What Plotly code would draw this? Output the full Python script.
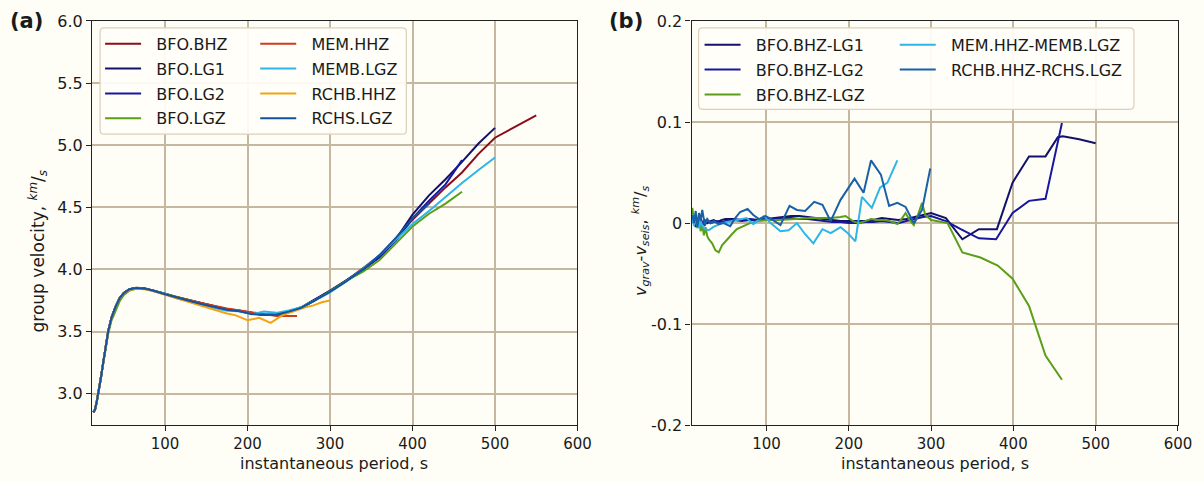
import plotly.graph_objects as go

# ---------------- Panel (a): group velocity (km/s) vs instantaneous period (s)
P_BFO = [13, 15, 17, 19, 22, 25, 28, 31, 35, 40, 45, 50, 57, 65, 75, 85, 100, 115, 130, 145,
         160, 175, 190, 205, 220, 235, 250, 265, 280, 300, 320, 340, 360, 380, 400, 420, 440, 460, 480, 500]
P_BHZ = P_BFO + [525, 550]
BFO_BHZ = [2.85, 2.87, 2.93, 3.00, 3.12, 3.25, 3.38, 3.50, 3.61, 3.70,
           3.77, 3.81, 3.84, 3.85, 3.845, 3.83, 3.80, 3.77, 3.745, 3.72,
           3.695, 3.675, 3.665, 3.645, 3.632, 3.635, 3.655, 3.69, 3.745, 3.82,
           3.91, 4.01, 4.11, 4.25, 4.40, 4.53, 4.66, 4.78, 4.93, 5.06, 5.15, 5.24]
BFO_LG1 = [2.85, 2.87, 2.93, 3.00, 3.12, 3.25, 3.38, 3.50, 3.61, 3.70,
           3.77, 3.81, 3.84, 3.852, 3.848, 3.833, 3.805, 3.775, 3.75, 3.725,
           3.70, 3.68, 3.668, 3.648, 3.634, 3.638, 3.66, 3.695, 3.75, 3.83,
           3.914, 3.996, 4.104, 4.244, 4.44, 4.596, 4.726, 4.865, 5.013, 5.139]
P_LG2 = [13, 15, 17, 19, 22, 25, 28, 31, 35, 40, 45, 50, 57, 65, 75, 85, 100, 115, 130, 145,
         160, 175, 190, 205, 220, 235, 250, 265, 280, 300, 320, 340, 360, 380, 400, 420, 440, 460]
BFO_LG2 = [2.85, 2.87, 2.93, 3.00, 3.12, 3.25, 3.38, 3.50, 3.61, 3.70,
           3.77, 3.81, 3.84, 3.851, 3.847, 3.832, 3.804, 3.774, 3.749, 3.724,
           3.699, 3.679, 3.667, 3.647, 3.633, 3.637, 3.658, 3.693, 3.748, 3.823,
           3.91, 4.003, 4.095, 4.234, 4.41, 4.552, 4.684, 4.879]
BFO_LGZ = [2.86, 2.87, 2.925, 3.00, 3.11, 3.237, 3.362, 3.48, 3.588, 3.672,
           3.745, 3.794, 3.83, 3.844, 3.843, 3.83, 3.803, 3.773, 3.748, 3.725,
           3.70, 3.68, 3.672, 3.647, 3.635, 3.638, 3.655, 3.695, 3.745, 3.823,
           3.91, 3.981, 4.076, 4.208, 4.345, 4.448, 4.529, 4.625]
P_MEM = [13, 15, 17, 19, 22, 25, 28, 31, 35, 40, 45, 50, 57, 65, 75, 85, 100, 115, 130, 145,
         160, 175, 190, 205, 220, 235, 250, 260]
MEM_HHZ = [2.85, 2.87, 2.93, 3.00, 3.12, 3.25, 3.38, 3.50, 3.61, 3.70,
           3.77, 3.81, 3.84, 3.85, 3.845, 3.83, 3.80, 3.772, 3.75, 3.728,
           3.705, 3.685, 3.67, 3.655, 3.645, 3.625, 3.625, 3.625]
MEMB_LGZ = [2.86, 2.87, 2.93, 3.00, 3.12, 3.25, 3.38, 3.50, 3.61, 3.70,
            3.77, 3.81, 3.84, 3.85, 3.845, 3.83, 3.805, 3.765, 3.742, 3.712,
            3.69, 3.668, 3.662, 3.64, 3.66, 3.65, 3.67, 3.695, 3.745, 3.815,
            3.905, 4.005, 4.115, 4.24, 4.365, 4.47, 4.585, 4.695, 4.80, 4.90]
P_RCHB = [13, 15, 17, 19, 22, 25, 28, 31, 35, 40, 45, 50, 57, 65, 75, 85, 100, 115, 130, 145,
          162, 175, 186, 200, 214, 228, 242, 258, 270, 280, 290, 300]
RCHB_HHZ = [2.85, 2.87, 2.93, 3.00, 3.12, 3.25, 3.38, 3.50, 3.61, 3.70,
            3.77, 3.81, 3.835, 3.845, 3.84, 3.825, 3.795, 3.765, 3.735, 3.70,
            3.665, 3.645, 3.63, 3.59, 3.61, 3.57, 3.63, 3.67, 3.695, 3.71, 3.735, 3.75]
P_RCHS = [13, 15, 17, 19, 22, 25, 28, 31, 35, 40, 45, 50, 57, 65, 75, 85, 100, 115, 130, 145,
          160, 175, 190, 205, 220, 235, 250, 265, 280, 300, 320, 340, 360, 380, 400, 420]
RCHS_LGZ = [2.85, 2.87, 2.93, 3.00, 3.12, 3.25, 3.38, 3.50, 3.61, 3.70,
            3.77, 3.81, 3.84, 3.85, 3.845, 3.83, 3.80, 3.77, 3.745, 3.72,
            3.695, 3.675, 3.663, 3.64, 3.632, 3.635, 3.66, 3.69, 3.745, 3.82,
            3.905, 4.00, 4.115, 4.255, 4.41, 4.53]

# ---------------- Panel (b): v_grav - v_seis (km/s)
P_D1 = [10, 12, 14, 16, 18, 20, 22, 25, 28, 32, 36, 40, 45, 50, 60, 70, 80, 90, 100, 110,
        120, 130, 140, 150, 160, 170, 180, 190, 200, 210, 220, 230, 240, 250, 260, 270, 280, 290, 300,
        318, 338, 358, 380, 399, 419, 439, 454, 460, 480, 500]
D_BHZ_LG1 = [0.005, 0.0, 0.008, -0.003, 0.006, 0.002, -0.002, 0.003, 0.0, 0.002,
             0.003, 0.001, 0.003, 0.004, 0.004, 0.003, 0.004, 0.003, 0.004, 0.005,
             0.006, 0.007, 0.007, 0.006, 0.005, 0.004, 0.003, 0.002, 0.002, 0.002,
             0.002, 0.003, 0.005, 0.004, 0.003, 0.004, 0.006, 0.008, 0.01,
             0.005, -0.016, -0.006, -0.006, 0.04, 0.066, 0.066, 0.085, 0.086, 0.083, 0.079]
P_D2 = [10, 12, 14, 16, 18, 20, 22, 25, 28, 32, 36, 40, 45, 50, 60, 70, 80, 90, 100, 110,
        120, 130, 140, 150, 160, 170, 180, 190, 200, 210, 220, 230, 240, 250, 260, 270, 280, 290, 300,
        318, 336, 358, 379, 399, 419, 439, 459]
D_BHZ_LG2 = [0.003, 0.006, -0.004, 0.005, 0.0, 0.004, 0.001, -0.002, 0.002, 0.0,
             0.001, 0.002, 0.001, 0.002, 0.003, 0.002, 0.003, 0.003, 0.004, 0.004,
             0.005, 0.005, 0.004, 0.004, 0.003, 0.002, 0.001, 0.001, 0.0, 0.0,
             0.001, 0.001, 0.002, 0.001, 0.0, 0.002, 0.004, 0.006, 0.007,
             0.002, -0.006, -0.015, -0.016, 0.01, 0.022, 0.024, 0.099]
P_DZ = [10, 12, 14, 16, 18, 20, 22, 24, 26, 28, 30, 34, 38, 42, 46, 52, 58, 64, 72, 80,
        90, 100, 115, 130, 145, 155, 165, 178, 190, 196, 205, 212, 220, 227, 235, 243, 250, 259, 264, 269,
        274, 279, 284, 289, 293, 300, 320, 338, 360, 381, 399, 419, 439, 459]
D_BHZ_LGZ = [0.015, 0.0, 0.008, -0.005, 0.006, -0.008, -0.002, -0.012, -0.004, -0.013,
             -0.016, -0.02, -0.027, -0.029, -0.022, -0.016, -0.011, -0.006, -0.003, 0.0,
             0.002, 0.003, 0.003, 0.004, 0.005, 0.005, 0.005, 0.005, 0.006, 0.007,
             0.002, 0.0, 0.002, 0.004, 0.003, 0.003, 0.002, -0.001, 0.004, 0.01,
             0.003, -0.002, 0.008, 0.02, 0.008, 0.003, 0.0, -0.029, -0.034, -0.042,
             -0.055, -0.082, -0.131, -0.155]
P_DM = [10, 12, 14, 16, 18, 20, 23, 26, 30, 35, 40, 46, 52, 58, 64, 70, 76, 84, 90, 97,
        105, 117, 127, 137, 147, 157, 168, 178, 190, 199, 208, 216, 228, 238, 247, 259]
D_MEM = [0.005, -0.003, 0.004, 0.0, -0.005, 0.002, -0.004, -0.006, -0.007, -0.004,
         -0.002, 0.0, 0.001, 0.002, 0.003, 0.004, 0.005, -0.001, 0.003, 0.007,
         0.0, -0.008, -0.007, 0.0, -0.011, -0.02, -0.006, -0.01, -0.004, -0.01,
         -0.018, 0.026, 0.015, 0.035, 0.04, 0.062]
P_DR = [10, 12, 14, 16, 18, 20, 22, 25, 28, 32, 36, 42, 48, 56, 62, 68, 77, 84, 91, 99,
        108, 117, 128, 137, 147, 158, 168, 178, 190, 207, 218, 227, 239, 249, 259, 269, 279, 289, 299]
D_RCH = [0.008, 0.0, 0.012, -0.004, 0.01, 0.003, 0.013, -0.002, 0.004, 0.0,
         0.002, -0.001, 0.0, -0.003, 0.005, 0.011, 0.014, 0.008, 0.004, 0.007,
         0.003, -0.002, 0.017, 0.013, 0.012, 0.021, 0.018, 0.002, 0.023, 0.044,
         0.03, 0.062, 0.048, 0.017, 0.02, 0.016, 0.0, 0.013, 0.054]

X_TICKS = [100, 200, 300, 400, 500, 600]
YA_TICKS = [3.0, 3.5, 4.0, 4.5, 5.0, 5.5, 6.0]
YB_TICKS = [-0.2, -0.1, 0.0, 0.1, 0.2]
YB_TEXT = ["-0.2", "-0.1", "0", "0.1", "0.2"]

C = {
    "BHZ": "#8b0d1c", "LG1": "#12126c", "LG2": "#1717a0", "LGZ": "#5a9e1a",
    "MEM": "#d23a1c", "MEMB": "#2cb5e8", "RCHB": "#f2a312", "RCHS": "#14519f",
}

W, H = 1204, 481
# the page shows the paper in an area of about 1189 x 465 px, starting 8 px from the top
VW, VH, VOFF = 1189.0, 465.0, 8.0
def px(x):
    return x / VW
def py(y):
    return 1 - (y - VOFF) / VH

FONT = "DejaVu Sans"
BG = "#fefdf6"
GRID = "#c6b7a0"
PAD = "\u00a0\u00a0"

fig = go.Figure()

panel_a = [
    ("BFO.BHZ", P_BHZ, BFO_BHZ, C["BHZ"], "legend"),
    ("BFO.LG1", P_BFO, BFO_LG1, C["LG1"], "legend"),
    ("BFO.LG2", P_LG2, BFO_LG2, C["LG2"], "legend"),
    ("BFO.LGZ", P_LG2, BFO_LGZ, C["LGZ"], "legend"),
    ("MEM.HHZ", P_MEM, MEM_HHZ, C["MEM"], "legend2"),
    ("MEMB.LGZ", P_BFO, MEMB_LGZ, C["MEMB"], "legend2"),
    ("RCHB.HHZ", P_RCHB, RCHB_HHZ, C["RCHB"], "legend2"),
    ("RCHS.LGZ", P_RCHS, RCHS_LGZ, C["RCHS"], "legend2"),
]
for i, (name, xs, ys, col, lg) in enumerate(panel_a):
    fig.add_trace(go.Scatter(x=xs, y=ys, mode="lines", name=PAD + name,
                             line=dict(color=col, width=2),
                             xaxis="x", yaxis="y", legend=lg,
                             legendgroup="a%d" % i))

panel_b = [
    ("BFO.BHZ-LG1", P_D1, D_BHZ_LG1, C["LG1"], "legend3"),
    ("BFO.BHZ-LG2", P_D2, D_BHZ_LG2, C["LG2"], "legend3"),
    ("BFO.BHZ-LGZ", P_DZ, D_BHZ_LGZ, C["LGZ"], "legend3"),
    ("MEM.HHZ-MEMB.LGZ", P_DM, D_MEM, C["MEMB"], "legend4"),
    ("RCHB.HHZ-RCHS.LGZ", P_DR, D_RCH, "#1861a9", "legend4"),
]
for i, (name, xs, ys, col, lg) in enumerate(panel_b):
    fig.add_trace(go.Scatter(x=xs, y=ys, mode="lines", name=PAD + name,
                             line=dict(color=col, width=2),
                             xaxis="x2", yaxis="y2", legend=lg,
                             legendgroup="b%d" % i))

ax_common = dict(showgrid=True, gridcolor=GRID, gridwidth=1.5,
                 showline=True, linecolor="#222222", linewidth=1.3, mirror=True,
                 ticks="outside", ticklen=5, tickwidth=1.2, tickcolor="#222222",
                 zeroline=False)
xfont = dict(family=FONT, size=15, color="#1a1a1a")
yfont = dict(family=FONT, size=16, color="#1a1a1a")

ydom = [py(427), py(20)]
fig.update_layout(
    width=W, height=H, autosize=False,
    margin=dict(l=0, r=0, t=0, b=0),
    paper_bgcolor=BG, plot_bgcolor=BG,
    showlegend=True,
    xaxis=dict(domain=[px(92), px(577)], range=[11.5, 600], tickvals=X_TICKS,
               anchor="y", tickfont=xfont, **ax_common),
    yaxis=dict(domain=ydom, range=[2.745, 6.0], tickvals=YA_TICKS,
               tickformat=".1f", anchor="x", tickfont=yfont, **ax_common),
    xaxis2=dict(domain=[px(691), px(1177)], range=[9, 600], tickvals=X_TICKS,
                anchor="y2", tickfont=xfont, **ax_common),
    yaxis2=dict(domain=ydom, range=[-0.2, 0.2], tickvals=YB_TICKS, ticktext=YB_TEXT,
                anchor="x2", tickfont=yfont, **ax_common),
)

leg_common = dict(bgcolor="rgba(0,0,0,0)", borderwidth=0,
                  font=dict(family=FONT, size=16, color="#1a1a1a"),
                  xanchor="left", yanchor="top", orientation="v",
                  tracegroupgap=1, itemwidth=36)
fig.update_layout(
    legend=dict(x=px(100), y=py(26), **leg_common),
    legend2=dict(x=px(255), y=py(26), **leg_common),
    legend3=dict(x=px(699), y=py(27), **leg_common),
    legend4=dict(x=px(894), y=py(27), **leg_common),
)

def rounded_box(x0, y0, x1, y1, r=4):
    rx, ry = r / VW, r / VH
    X0, X1 = px(x0), px(x1)
    Y0, Y1 = py(y0), py(y1)
    return (f"M{X0 + rx},{Y0} L{X1 - rx},{Y0} Q{X1},{Y0} {X1},{Y0 - ry} "
            f"L{X1},{Y1 + ry} Q{X1},{Y1} {X1 - rx},{Y1} L{X0 + rx},{Y1} "
            f"Q{X0},{Y1} {X0},{Y1 + ry} L{X0},{Y0 - ry} Q{X0},{Y0} {X0 + rx},{Y0} Z")

fig.add_shape(type="path", xref="paper", yref="paper", path=rounded_box(100, 27, 406, 134),
              fillcolor="rgba(255,254,249,0.92)", line=dict(color="#dccfbc", width=1.2),
              layer="above")
fig.add_shape(type="path", xref="paper", yref="paper", path=rounded_box(698, 27, 1133, 109),
              fillcolor="rgba(255,254,249,0.92)", line=dict(color="#dccfbc", width=1.2),
              layer="above")

ann_font = dict(family=FONT, size=16, color="#1a1a1a")
annotations = [
    dict(text="<b>(a)</b>", x=px(26), y=py(20), font=dict(family=FONT, size=21, color="#1a1a1a")),
    dict(text="<b>(b)</b>", x=px(625), y=py(20), font=dict(family=FONT, size=21, color="#1a1a1a")),
    dict(text="instantaneous period, s", x=px(334), y=py(465), font=ann_font),
    dict(text="instantaneous period, s", x=px(934), y=py(465), font=ann_font),
    dict(text="group velocity, <sup><i>km</i></sup>/<sub><i>s</i></sub>", x=px(38), y=py(252),
         textangle=-90, font=dict(family=FONT, size=17, color="#1a1a1a")),
    dict(text="<i>v</i><sub><i>grav</i></sub>-<i>v</i><sub><i>seis</i></sub>, "
              "<sup><i>km</i></sup>/<sub><i>s</i></sub>",
         x=px(640), y=py(241), textangle=-90, font=ann_font),
]
for a in annotations:
    a.update(xref="paper", yref="paper", showarrow=False, xanchor="center", yanchor="middle")
fig.update_layout(annotations=annotations)

fig.write_html("out.html", config={"responsive": False},
               post_script="document.body.style.background='%s';" % BG)
